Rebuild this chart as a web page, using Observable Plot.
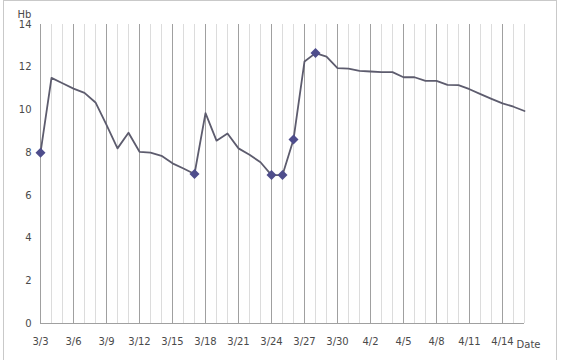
<!DOCTYPE html>
<html>
<head>
<meta charset="utf-8">
<script src="https://cdn.jsdelivr.net/npm/d3@7"></script>
<script src="https://cdn.jsdelivr.net/npm/@observablehq/plot@0.6"></script>
<style>
  html, body { margin: 0; padding: 0; background: #fff; }
  #wrap { position: relative; width: 565px; height: 360px; overflow: hidden; }
  #border { position: absolute; left: 3px; top: 0px; width: 554px; height: 372px; border: 1px solid #c9c9c9; box-sizing: border-box; pointer-events: none; }
  svg { position: absolute; left: 0; top: 0; }
</style>
</head>
<body>
<div id="wrap"><div id="border"></div></div>
<script>
const dateLabels = ["3/3","3/4","3/5","3/6","3/7","3/8","3/9","3/10","3/11","3/12","3/13","3/14","3/15","3/16","3/17","3/18","3/19","3/20","3/21","3/22","3/23","3/24","3/25","3/26","3/27","3/28","3/29","3/30","3/31","4/1","4/2","4/3","4/4","4/5","4/6","4/7","4/8","4/9","4/10","4/11","4/12","4/13","4/14","4/15","4/16"];
const hbValues = [8.0,11.5,11.25,11.0,10.8,10.35,9.3,8.2,8.93,8.04,8.0,7.85,7.5,7.26,7.0,9.85,8.56,8.9,8.2,7.9,7.55,6.95,6.95,8.62,12.27,12.66,12.5,11.96,11.93,11.83,11.8,11.77,11.77,11.53,11.53,11.36,11.36,11.17,11.16,10.97,10.74,10.52,10.31,10.15,9.95];
const markedDates = ["3/3","3/17","3/24","3/25","3/26","3/28"];
const tickLabels = ["3/3","3/6","3/9","3/12","3/15","3/18","3/21","3/24","3/27","3/30","4/2","4/5","4/8","4/11","4/14"];
const yTicks = [0,2,4,6,8,10,12,14];

const toDate = s => { const [m, d] = s.split("/").map(Number); return new Date(Date.UTC(2020, m - 1, d)); };
const rows = dateLabels.map((s, i) => ({date: toDate(s), hb: hbValues[i]}));
const marked = rows.filter((r, i) => markedDates.includes(dateLabels[i]));
const tickDates = tickLabels.map(toDate);
const allDates = dateLabels.map(toDate);
const fmt = d3.utcFormat("%-m/%-d");

const chart = Plot.plot({
  width: 565,
  height: 360,
  marginLeft: 40,
  marginRight: 41,
  marginTop: 24,
  marginBottom: 37,
  style: {fontFamily: "DejaVu Sans", fontSize: "10px", color: "#4a4a4a", background: "transparent"},
  x: {type: "utc", domain: [allDates[0], allDates[allDates.length - 1]], ticks: tickDates, tickFormat: fmt, tickSize: 0, tickPadding: 14, label: null},
  y: {domain: [0, 14], ticks: yTicks, tickSize: 0, tickPadding: 9, label: null},
  marks: [
    Plot.ruleX(allDates, {stroke: "#dcdcdc", strokeWidth: 1}),
    Plot.ruleX(tickDates, {stroke: "#a0a0a0", strokeWidth: 1}),
    Plot.ruleY([0], {stroke: "#a0a0a0"}),
    Plot.line(rows, {x: "date", y: "hb", stroke: "#5d5c6e", strokeWidth: 1.8}),
    Plot.dot(marked, {x: "date", y: "hb", symbol: "diamond2", r: 4.5, fill: "#4e4d8c", stroke: "none"}),
    Plot.text(["Hb"], {frameAnchor: "top-left", dx: -23, dy: -14, fill: "#4a4a4a", fontSize: 10}),
    Plot.text(["Date"], {frameAnchor: "bottom-right", dx: 16, dy: 24, fill: "#4a4a4a", fontSize: 10})
  ]
});
document.getElementById("wrap").appendChild(chart);
</script>
</body>
</html>
